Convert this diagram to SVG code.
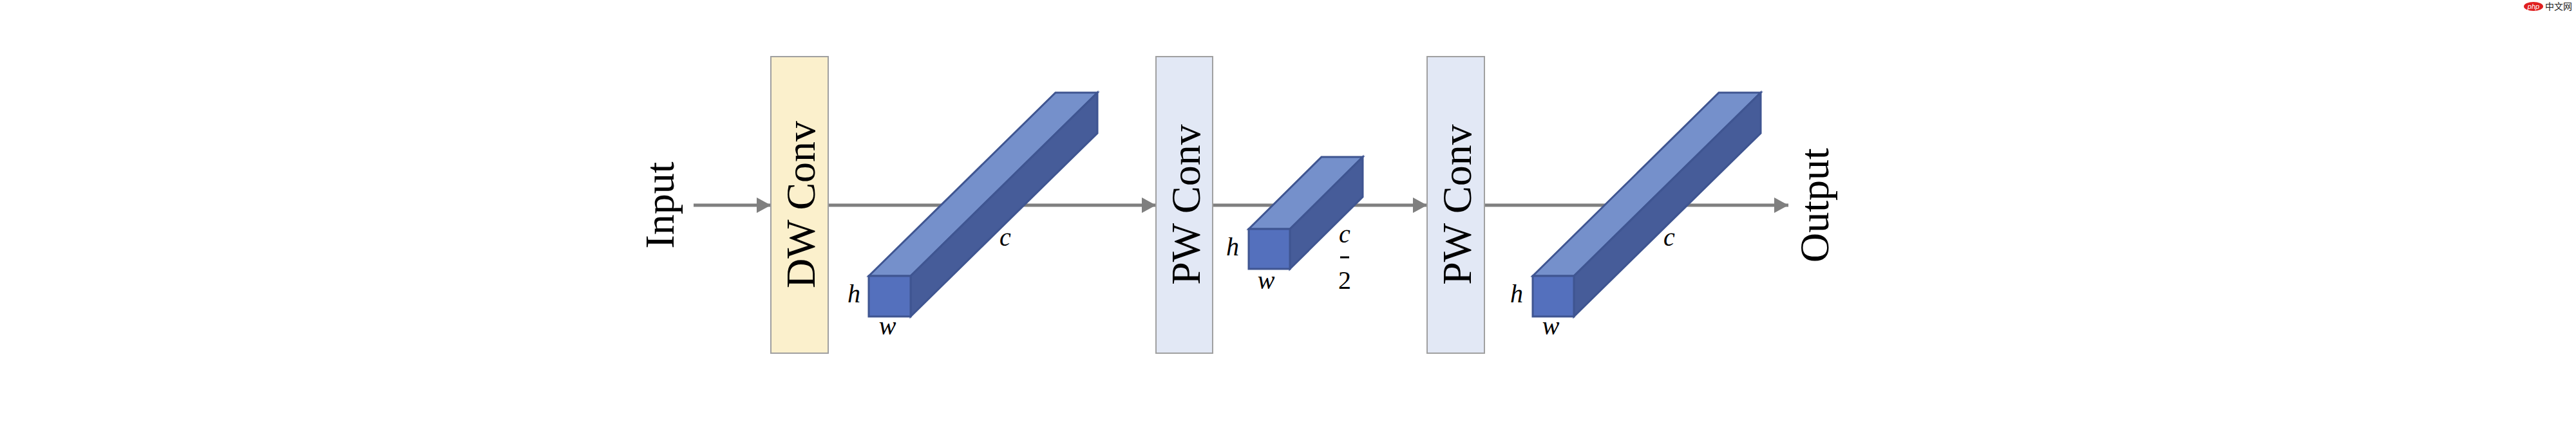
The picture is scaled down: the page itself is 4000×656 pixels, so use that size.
<svg xmlns="http://www.w3.org/2000/svg" width="4000" height="656" viewBox="0 0 4000 656">
<defs>
<marker id="ah" markerWidth="24" markerHeight="24" refX="22" refY="12" orient="auto" markerUnits="userSpaceOnUse"><path d="M0,0 L22,12 L0,24 Z" fill="#7f7f7f"/></marker>
<style>
.lbl{font-family:"Liberation Serif",serif;font-size:64px;fill:#000;text-anchor:middle;dominant-baseline:central}
.var{font-family:"Liberation Serif",serif;font-style:italic;font-size:40px;fill:#000;text-anchor:middle}
.box{stroke:#a0a0a0;stroke-width:2}
.top{fill:#7590cb;stroke:#3f5591;stroke-width:3}
.side{fill:#465c99;stroke:#3f5591;stroke-width:3}
.front{fill:#5470bd;stroke:#3f5591;stroke-width:3}
.conn{stroke:#7f7f7f;stroke-width:5;fill:none;marker-end:url(#ah)}
</style>
</defs>
<rect width="4000" height="656" fill="#fff"/>
<g id="connectors">
<line class="conn" x1="1077" y1="319" x2="1197" y2="319"/>
<line class="conn" x1="1286" y1="319" x2="1795" y2="319"/>
<line class="conn" x1="1883" y1="319" x2="2216" y2="319"/>
<line class="conn" x1="2305" y1="319" x2="2777" y2="319"/>
</g>
<g id="input"><text class="lbl" transform="translate(1024,319) rotate(-90)">Input</text></g>
<g id="dwconv"><rect class="box" x="1197" y="88" width="89" height="461" fill="#fbf0cc"/><text class="lbl" transform="translate(1243,318) rotate(-90)">DW Conv</text></g>
<g id="tensor1">
<polygon class="top" points="1349,429 1639,144 1704,144 1414,429"/>
<polygon class="side" points="1414,429 1704,144 1704,207 1414,492"/>
<rect class="front" x="1349" y="429" width="65" height="63"/>
<text class="var" x="1326" y="470">h</text><text class="var" x="1378" y="520">w</text><text class="var" x="1561" y="382">c</text>
</g>
<g id="pwconv1"><rect class="box" x="1795" y="88" width="88" height="461" fill="#e2e8f5"/><text class="lbl" transform="translate(1841,318) rotate(-90)">PW Conv</text></g>
<g id="tensor2">
<polygon class="top" points="1939,356 2052,244 2116,244 2003,356"/>
<polygon class="side" points="2003,356 2116,244 2116,306 2003,418"/>
<rect class="front" x="1939" y="356" width="64" height="62"/>
<text class="var" x="1914" y="397">h</text><text class="var" x="1966" y="449">w</text>
<text class="var" x="2088" y="377">c</text><line x1="2081" y1="400" x2="2095" y2="400" stroke="#000" stroke-width="3"/>
<text x="2088" y="449" font-family="Liberation Serif,serif" font-size="40" text-anchor="middle">2</text>
</g>
<g id="pwconv2"><rect class="box" x="2216" y="88" width="89" height="461" fill="#e2e8f5"/><text class="lbl" transform="translate(2262,318) rotate(-90)">PW Conv</text></g>
<g id="tensor3">
<polygon class="top" points="2380,429 2669,144 2734,144 2444,429"/>
<polygon class="side" points="2444,429 2734,144 2734,207 2444,492"/>
<rect class="front" x="2380" y="429" width="64" height="63"/>
<text class="var" x="2355" y="470">h</text><text class="var" x="2408" y="520">w</text><text class="var" x="2592" y="382">c</text>
</g>
<g id="output"><text class="lbl" transform="translate(2817,319) rotate(-90)">Output</text></g>
<g id="watermark">
<ellipse cx="3934" cy="10" rx="15" ry="7" fill="#e02020"/>
<text x="3934" y="14" font-family="Liberation Sans,sans-serif" font-style="italic" font-size="11" fill="#fff" text-anchor="middle">php</text>
<text x="3952" y="15" font-family="Noto Sans CJK SC,sans-serif" font-size="14" fill="#222">中文网</text>
</g>
</svg>
